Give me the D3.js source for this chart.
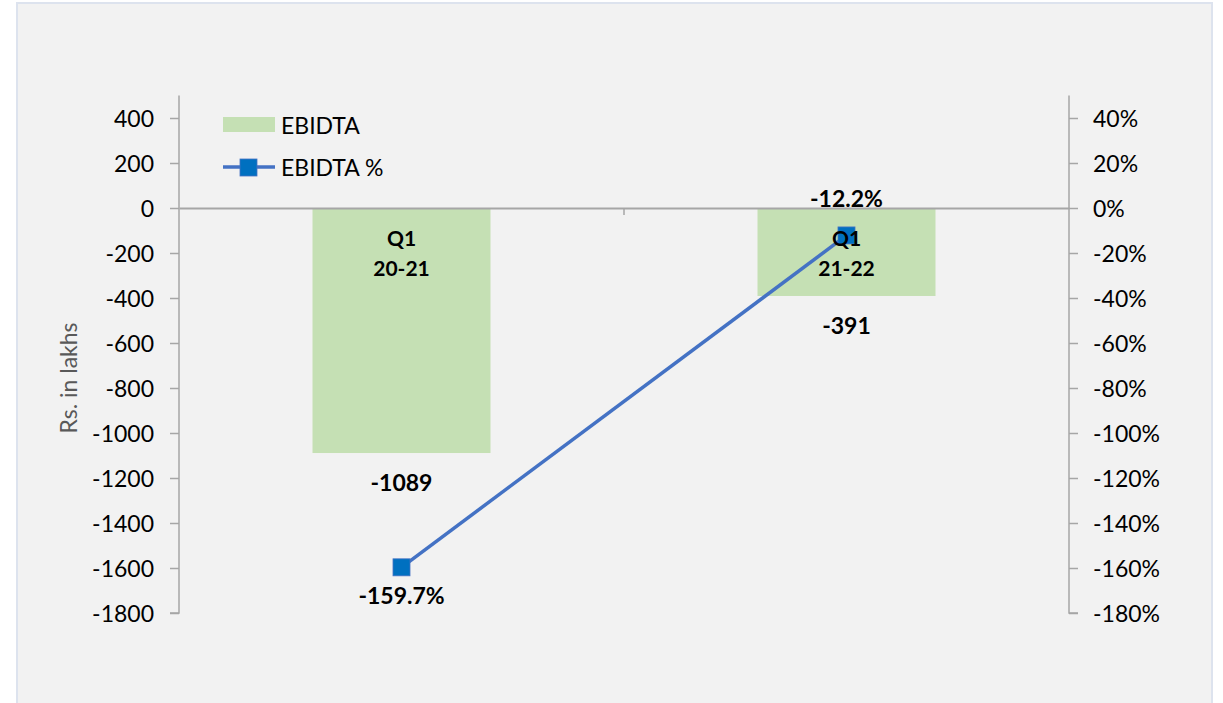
<!DOCTYPE html>
<html>
<head>
<meta charset="utf-8">
<script src="https://cdn.jsdelivr.net/npm/d3@7"></script>
<style>
  html, body { margin: 0; padding: 0; background: #fff; overflow: hidden; }
  svg { display: block; font-family: Lato, "Open Sans", sans-serif; }
</style>
</head>
<body>
<svg id="chart" width="1223" height="703"></svg>
<script>
// chart data
const categories = [['Q1', '20-21'], ['Q1', '21-22']];
const ebidta = [-1089, -391];
const ebidtaPct = [-159.7, -12.2];
const leftTicks = [400, 200, 0, -200, -400, -600, -800, -1000, -1200, -1400, -1600, -1800];
const rightTicks = [40, 20, 0, -20, -40, -60, -80, -100, -120, -140, -160, -180];

const plotLeft = 179, plotRight = 1069, plotTop = 95.5, plotBottom = 613;

const svg = d3.select('#chart');

// frame
svg.append('rect')
  .attr('x', 17).attr('y', 3)
  .attr('width', 1195).attr('height', 710)
  .attr('fill', '#f2f2f2')
  .attr('stroke', '#dde3ee')
  .attr('stroke-width', 2);

const keys = categories.map(c => c.join(' '));
const x = d3.scaleBand().domain(keys).range([plotLeft, plotRight]).padding(0);
const y = d3.scaleLinear().domain([-1800, 500]).range([plotBottom, plotTop]);
const y2 = d3.scaleLinear().domain([-180, 50]).range([plotBottom, plotTop]);

const barW = x.bandwidth() * 0.4;
const cx = i => x(keys[i]) + x.bandwidth() / 2;

// bars
svg.selectAll('rect.bar')
  .data(ebidta)
  .enter()
  .append('rect')
  .attr('class', 'bar')
  .attr('x', (d, i) => cx(i) - barW / 2)
  .attr('y', d => Math.min(y(0), y(d)))
  .attr('width', barW)
  .attr('height', d => Math.abs(y(d) - y(0)))
  .attr('fill', '#c5e0b4');

// left axis
const leftAxis = svg.append('g')
  .attr('transform', `translate(${plotLeft},0)`)
  .call(d3.axisLeft(y).tickValues(leftTicks).tickSize(9).tickPadding(16).tickFormat(d => String(d)));

// right axis
const rightAxis = svg.append('g')
  .attr('transform', `translate(${plotRight},0)`)
  .call(d3.axisRight(y2).tickValues(rightTicks).tickSize(9).tickPadding(15).tickFormat(d => d + '%'));

leftAxis.select('.domain').attr('d', `M0,${plotTop}V${plotBottom}H-9`);
rightAxis.select('.domain').attr('d', `M0,${plotTop}V${plotBottom}H9`);
[leftAxis, rightAxis].forEach(g => {
  g.select('.domain').attr('stroke', '#a6a6a6').attr('stroke-width', 1.5).attr('fill', 'none');
  g.selectAll('.tick line').attr('stroke', '#a6a6a6').attr('stroke-width', 1.5);
  g.selectAll('.tick text').attr('fill', '#000').style('font-size', '23px').attr('dy', '0.36em');
  g.attr('font-family', null).attr('font-size', null);
});

// category axis along zero
const catAxis = svg.append('g')
  .attr('transform', `translate(0,${y(0)})`)
  .call(d3.axisBottom(x).tickValues([]).tickSizeOuter(0));
catAxis.select('.domain').attr('stroke', '#a6a6a6').attr('stroke-width', 1.8);
catAxis.append('line')
  .attr('x1', x(keys[1])).attr('x2', x(keys[1]))
  .attr('y1', 0).attr('y2', 7)
  .attr('stroke', '#a6a6a6').attr('stroke-width', 1.5);

// bar value labels
svg.selectAll('text.barlab')
  .data(ebidta)
  .enter()
  .append('text')
  .attr('class', 'barlab')
  .attr('x', (d, i) => cx(i))
  .attr('y', d => y(d) + 38)
  .attr('text-anchor', 'middle')
  .style('font-size', '23px').style('font-weight', 'bold')
  .text(d => d);

// line
const pts = ebidtaPct.map((v, i) => [cx(i), y2(v)]);
svg.append('path')
  .attr('d', d3.line()(pts))
  .attr('fill', 'none')
  .attr('stroke', '#4472c4')
  .attr('stroke-width', 3.5);

svg.selectAll('rect.marker')
  .data(pts)
  .enter()
  .append('rect')
  .attr('class', 'marker')
  .attr('x', d => d[0] - 8.5).attr('y', d => d[1] - 8.5)
  .attr('width', 17).attr('height', 17)
  .attr('fill', '#0070c0')
  .attr('stroke', '#4472c4').attr('stroke-width', 0.8);

// category labels (drawn over the line markers)
categories.forEach((c, i) => {
  const t = svg.append('text')
    .attr('text-anchor', 'middle')
    .style('font-size', '21px').style('font-weight', 'bold');
  t.append('tspan').attr('x', cx(i)).attr('y', y(0) + 38).text(c[0]);
  t.append('tspan').attr('x', cx(i)).attr('y', y(0) + 68).text(c[1]);
});

// line labels
svg.selectAll('text.pctlab')
  .data(ebidtaPct)
  .enter()
  .append('text')
  .attr('class', 'pctlab')
  .attr('x', (d, i) => pts[i][0])
  .attr('y', (d, i) => i === 0 ? pts[i][1] + 37 : pts[i][1] - 28)
  .attr('text-anchor', 'middle')
  .style('font-size', '23px').style('font-weight', 'bold')
  .text(d => d.toFixed(1) + '%');

// y title
svg.append('text')
  .attr('transform', 'translate(77,378) rotate(-90)')
  .attr('text-anchor', 'middle')
  .attr('fill', '#595959')
  .style('font-size', '23px')
  .text('Rs. in lakhs');

// legend
const legend = svg.append('g');
legend.append('rect')
  .attr('x', 223).attr('y', 117).attr('width', 52).attr('height', 15)
  .attr('fill', '#c5e0b4');
legend.append('text')
  .attr('x', 281).attr('y', 134)
  .style('font-size', '23px').text('EBIDTA');
legend.append('line')
  .attr('x1', 223).attr('x2', 275).attr('y1', 167).attr('y2', 167)
  .attr('stroke', '#4472c4').attr('stroke-width', 3.5);
legend.append('rect')
  .attr('x', 240).attr('y', 159).attr('width', 17).attr('height', 17)
  .attr('fill', '#0070c0').attr('stroke', '#4472c4').attr('stroke-width', 0.8);
legend.append('text')
  .attr('x', 281).attr('y', 176)
  .style('font-size', '23px').text('EBIDTA %');
</script>
</body>
</html>
